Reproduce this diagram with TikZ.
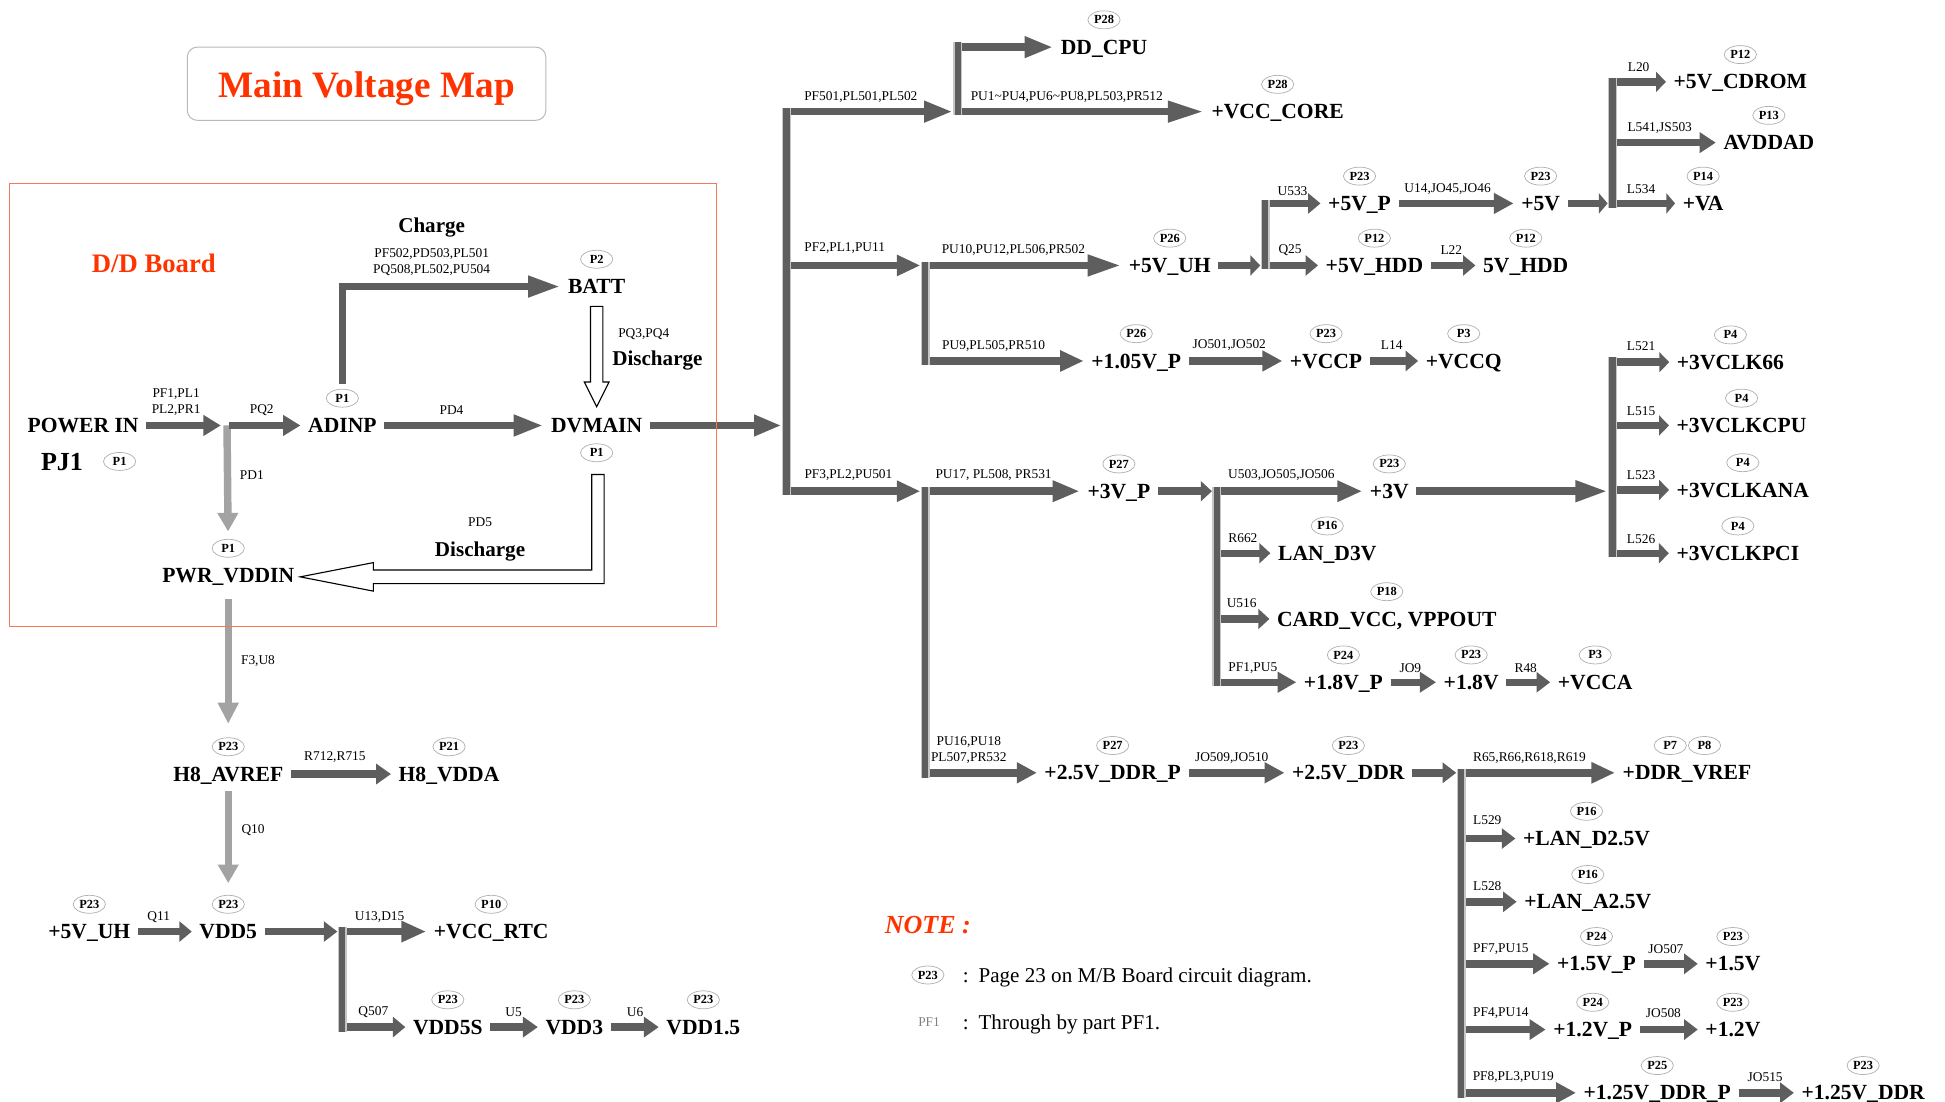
\documentclass[tikz,border=0pt]{standalone}
\usepackage{fontspec}
\setmainfont{Liberation Serif}
\usetikzlibrary{arrows.meta,positioning,shapes.geometric}

\definecolor{pgray}{HTML}{5E5E5E}
\definecolor{lgray}{HTML}{A3A3A3}
\definecolor{mapred}{HTML}{FF3300}
\definecolor{boxred}{HTML}{F5785A}

\tikzset{
  volt/.style={font=\bfseries\fontsize{17.4}{17.4}\selectfont, inner xsep=6pt, inner ysep=3pt,
    text height=11.5pt, text depth=0pt},
  pg/.style={ellipse, draw=gray!60, line width=0.6pt, minimum width=26pt, minimum height=14.5pt,
    inner sep=0pt, font=\bfseries\fontsize{10}{10}\selectfont},
  lbl/.style={font=\fontsize{10.8}{13}\selectfont, inner sep=0pt, align=center},
  hd/.style={font=\bfseries\fontsize{17}{17}\selectfont, inner sep=0pt, text height=11.5pt, text depth=0pt},
  nt/.style={anchor=west, inner sep=0pt, font=\fontsize{17}{17}\selectfont, text height=11.5pt, text depth=0pt},
  pw/.style={draw=pgray, line width=6pt, -{Triangle[length=#1,width=16pt]}},
  pw/.default=18pt,
  pwl/.style={pw=#1, draw=lgray},
  pwl/.default=15pt,
  tobus/.style={shorten >=4pt},
  bus/.style={draw=gray!45, line width=1.2pt, double=pgray, double distance=5pt},
  hollow/.style={draw=black, line width=0.9pt, fill=white, line join=miter}
}

\begin{document}
\begin{tikzpicture}[x=1pt, y=-1pt]
\useasboundingbox (0,0) rectangle (1568,887.6);

% title
\node[draw=gray!55, line width=0.8pt, rounded corners=8pt, minimum width=289pt, minimum height=59pt] (title) at (295.5,67.5) {};
\node[text=mapred, font=\bfseries\fontsize{30}{30}\selectfont, text height=20pt, text depth=0pt, inner sep=0pt] (titletx) at (295.5,69) {Main Voltage Map};

% D/D board
\node[text=mapred, font=\bfseries\fontsize{21.5}{21.5}\selectfont] (ddlbl) at (124,212) {D/D Board};
\node[volt] (pwrin) at (67,343) {POWER IN};
\node[volt, font=\bfseries\fontsize{21}{21}\selectfont, text height=14pt] (pj1) at (50,372) {PJ1};
\node[pg, right=10pt of pj1] (pj1P) {P1};
\node[volt] (adinp) at (276,343) {ADINP};
\node[pg, above=5.5pt of adinp] (adinpP) {P1};
\node[volt] (dvmain) at (481,343) {DVMAIN};
\node[pg, below=5.5pt of dvmain] (dvmainP) {P1};
\node[volt] (batt) at (481,231) {BATT};
\node[pg, above=5.5pt of batt] (battP) {P2};
\node[volt] (vddin) at (184,464) {PWR\_VDDIN};
\node[pg, above=5.5pt of vddin] (vddinP) {P1};

\node[hd] (lchg) at (348,182) {Charge};
\node[lbl] (lpf502) at (348,211.5) {PF502,PD503,PL501\\PQ508,PL502,PU504};
\node[lbl] (lpf1) at (142,324.5) {PF1,PL1\\PL2,PR1};
\node[lbl] (lpq2) at (211,331) {PQ2};
\node[lbl] (lpd4) at (364,331) {PD4};
\node[lbl] (lpd1) at (203,383) {PD1};
\node[lbl] (lpq3) at (519,269) {PQ3,PQ4};
\node[hd] (ldis1) at (530,289) {Discharge};
\node[lbl] (lpd5) at (387,421) {PD5};
\node[hd] (ldis2) at (387,443) {Discharge};

% H8 / VDD5
\node[volt] (avref) at (184,624) {H8\_AVREF};
\node[pg, above=5.5pt of avref] (avrefP) {P23};
\node[volt] (vdda) at (362,624) {H8\_VDDA};
\node[pg, above=5.5pt of vdda] (vddaP) {P21};
\node[volt] (uhl) at (72,751) {+5V\_UH};
\node[pg, above=5.5pt of uhl] (uhlP) {P23};
\node[volt] (vddf) at (184,751) {VDD5};
\node[pg, above=5.5pt of vddf] (vddfP) {P23};
\node[volt] (rtc) at (396,751) {+VCC\_RTC};
\node[pg, above=5.5pt of rtc] (rtcP) {P10};
\node[volt] (vddfs) at (361,828) {VDD5S};
\node[pg, above=5.5pt of vddfs] (vddfsP) {P23};
\node[volt] (vddt) at (463,828) {VDD3};
\node[pg, above=5.5pt of vddt] (vddtP) {P23};
\node[volt] (vddo) at (567,828) {VDD1.5};
\node[pg, above=5.5pt of vddo] (vddoP) {P23};

\node[lbl] (lf3) at (208,533) {F3,U8};
\node[lbl] (lr712) at (270,610) {R712,R715};
\node[lbl] (lq10) at (204,669) {Q10};
\node[lbl] (lq11) at (128,739) {Q11};
\node[lbl] (lu13) at (306,739) {U13,D15};
\node[lbl] (lq507) at (301,816) {Q507};
\node[lbl] (lu5) at (414,816) {U5};
\node[lbl] (lu6) at (512,816) {U6};

% CPU / 5V branch
\node[volt] (ddcpu) at (890,38) {DD\_CPU};
\node[pg, above=5.5pt of ddcpu] (ddcpuP) {P28};
\node[volt] (core) at (1030,90) {+VCC\_CORE};
\node[pg, above=5.5pt of core] (coreP) {P28};
\node[volt] (uh) at (943,214) {+5V\_UH};
\node[pg, above=5.5pt of uh] (uhP) {P26};
\node[volt] (vp) at (916,291) {+1.05V\_P};
\node[pg, above=5.5pt of vp] (vpP) {P26};
\node[volt] (fivep) at (1096,164) {+5V\_P};
\node[pg, above=5.5pt of fivep] (fivepP) {P23};
\node[volt] (five) at (1242,164) {+5V};
\node[pg, above=5.5pt of five] (fiveP) {P23};
\node[volt] (cdrom) at (1403,66) {+5V\_CDROM};
\node[pg, above=5.5pt of cdrom] (cdromP) {P12};
\node[volt] (avddad) at (1426,115) {AVDDAD};
\node[pg, above=5.5pt of avddad] (avddadP) {P13};
\node[volt] (va) at (1373,164) {+VA};
\node[pg, above=5.5pt of va] (vaP) {P14};
\node[volt] (hddp) at (1108,214) {+5V\_HDD};
\node[pg, above=5.5pt of hddp] (hddpP) {P12};
\node[volt] (hdd) at (1230,214) {5V\_HDD};
\node[pg, above=5.5pt of hdd] (hddP) {P12};
\node[volt] (vccp) at (1069,291) {+VCCP};
\node[pg, above=5.5pt of vccp] (vccpP) {P23};
\node[volt] (vccq) at (1180,291) {+VCCQ};
\node[pg, above=5.5pt of vccq] (vccqP) {P3};

\node[lbl] (lpf501) at (694,78) {PF501,PL501,PL502};
\node[lbl] (lpu1) at (860,78) {PU1\textasciitilde PU4,PU6\textasciitilde PU8,PL503,PR512};
\node[lbl] (lpf2) at (681,200) {PF2,PL1,PU11};
\node[lbl] (lpu10) at (817,201.5) {PU10,PU12,PL506,PR502};
\node[lbl] (lpu9) at (801,279) {PU9,PL505,PR510};
\node[lbl] (lu533) at (1042,154) {U533};
\node[lbl] (lu14) at (1167,152.5) {U14,JO45,JO46};
\node[lbl] (lq25) at (1040,201.5) {Q25};
\node[lbl] (ll22) at (1170,201.5) {L22};
\node[lbl] (ljo501) at (991,278) {JO501,JO502};
\node[lbl] (ll14) at (1122,278) {L14};
\node[lbl] (ll20) at (1321,54.5) {L20};
\node[lbl] (ll541) at (1338,103.5) {L541,JS503};
\node[lbl] (ll534) at (1323,152.5) {L534};

% 3V branch
\node[volt] (tvp) at (902,396) {+3V\_P};
\node[pg, above=5.5pt of tvp] (tvpP) {P27};
\node[volt] (tv) at (1120,396) {+3V};
\node[pg, above=5.5pt of tv] (tvP) {P23};
\node[volt] (clksix) at (1395,292) {+3VCLK66};
\node[pg, above=5.5pt of clksix] (clksixP) {P4};
\node[volt] (clkcpu) at (1404,343) {+3VCLKCPU};
\node[pg, above=5.5pt of clkcpu] (clkcpuP) {P4};
\node[volt] (clkana) at (1405,395) {+3VCLKANA};
\node[pg, above=5.5pt of clkana] (clkanaP) {P4};
\node[volt] (clkpci) at (1401,446) {+3VCLKPCI};
\node[pg, above=5.5pt of clkpci] (clkpciP) {P4};
\node[volt] (land) at (1070,446) {LAN\_D3V};
\node[pg, above=5.5pt of land] (landP) {P16};
\node[volt] (card) at (1118,499) {CARD\_VCC, VPPOUT};
\node[pg, above=5.5pt of card] (cardP) {P18};
\node[volt] (eightp) at (1083,550) {+1.8V\_P};
\node[pg, above=5.5pt of eightp] (eightpP) {P24};
\node[volt] (eight) at (1186,550) {+1.8V};
\node[pg, above=5.5pt of eight] (eightP) {P23};
\node[volt] (vcca) at (1286,550) {+VCCA};
\node[pg, above=5.5pt of vcca] (vccaP) {P3};

\node[lbl] (lpf3) at (684,383) {PF3,PL2,PU501};
\node[lbl] (lpu17) at (801,383) {PU17, PL508, PR531};
\node[lbl] (lu503) at (1033,383) {U503,JO505,JO506};
\node[lbl] (ll521) at (1323,279) {L521};
\node[lbl] (ll515) at (1323,331.5) {L515};
\node[lbl] (ll523) at (1323,383) {L523};
\node[lbl] (ll526) at (1323,434.5) {L526};
\node[lbl] (lr662) at (1002,434) {R662};
\node[lbl] (lu516) at (1001,486.5) {U516};
\node[lbl] (lpf1b) at (1010,539) {PF1,PU5};
\node[lbl] (ljo9) at (1137,539) {JO9};
\node[lbl] (lr48) at (1230,539) {R48};

% DDR branch
\node[volt] (ddrp) at (897,623) {+2.5V\_DDR\_P};
\node[pg, above=5.5pt of ddrp] (ddrpP) {P27};
\node[volt] (ddr) at (1087,623) {+2.5V\_DDR};
\node[pg, above=5.5pt of ddr] (ddrP) {P23};
\node[volt] (vref) at (1360,623) {+DDR\_VREF};
\node[pg, above=5.5pt of vref, xshift=-13.5pt] (vrefP) {P7};
\node[pg, right=1pt of vrefP] (vrefQ) {P8};
\node[volt] (landd) at (1279,676) {+LAN\_D2.5V};
\node[pg, above=5.5pt of landd] (landdP) {P16};
\node[volt] (lana) at (1280,727) {+LAN\_A2.5V};
\node[pg, above=5.5pt of lana] (lanaP) {P16};
\node[volt] (ofp) at (1287,777) {+1.5V\_P};
\node[pg, above=5.5pt of ofp] (ofpP) {P24};
\node[volt] (of) at (1397,777) {+1.5V};
\node[pg, above=5.5pt of of] (ofP) {P23};
\node[volt] (otp) at (1284,830) {+1.2V\_P};
\node[pg, above=5.5pt of otp] (otpP) {P24};
\node[volt] (ot) at (1397,830) {+1.2V};
\node[pg, above=5.5pt of ot] (otP) {P23};
\node[volt] (qddrp) at (1336,881) {+1.25V\_DDR\_P};
\node[pg, above=5.5pt of qddrp] (qddrpP) {P25};
\node[volt] (qddr) at (1502,881) {+1.25V\_DDR};
\node[pg, above=5.5pt of qddr] (qddrP) {P23};

\node[lbl] (lpu16) at (781,605) {PU16,PU18\\PL507,PR532};
\node[lbl] (ljo509) at (993,611) {JO509,JO510};
\node[lbl] (lr65) at (1233,611) {R65,R66,R618,R619};
\node[lbl] (ll529) at (1199,661) {L529};
\node[lbl] (ll528) at (1199,714) {L528};
\node[lbl] (lpf7) at (1210,765.5) {PF7,PU15};
\node[lbl] (ljo507) at (1343,765.5) {JO507};
\node[lbl] (lpf4) at (1210,817) {PF4,PU14};
\node[lbl] (ljo508) at (1341,817) {JO508};
\node[lbl] (lpf8) at (1220,868) {PF8,PL3,PU19};
\node[lbl] (ljo515) at (1423,868) {JO515};

% note
\node[text=mapred, font=\bfseries\itshape\fontsize{21}{21}\selectfont] (note) at (748,746) {NOTE :};
\node[pg] (noteP) at (748,786) {P23};
\node[nt] (noteA) at (776,786) {:\hspace{8pt}Page 23 on M/B Board circuit diagram.};
\node[lbl, text=gray] (notePF) at (749,824) {PF1};
\node[nt] (noteB) at (776,824) {:\hspace{8pt}Through by part PF1.};

% bus bars
\coordinate (j0) at (183,343);
\coordinate (s0t) at (634,87);    \coordinate (s0b) at (634,399);
\coordinate (s1t) at (772,34);    \coordinate (s1b) at (772,93);
\coordinate (s2t) at (746,211);   \coordinate (s2b) at (746,294);
\coordinate (s3t) at (1020,161);  \coordinate (s3b) at (1020,217);
\coordinate (s4t) at (1300,63);   \coordinate (s4b) at (1300,168);
\coordinate (s5t) at (746,393);   \coordinate (s5b) at (746,627);
\coordinate (s6t) at (981,393);   \coordinate (s6b) at (981,553);
\coordinate (s7t) at (1300,288);  \coordinate (s7b) at (1300,449);
\coordinate (s8t) at (1178,620);  \coordinate (s8b) at (1178,885);
\coordinate (s9t) at (276,747);   \coordinate (s9b) at (276,832);
\coordinate (s1in) at (772,90);
\coordinate (s2in) at (746,214);
\coordinate (s5in) at (746,396);

% D/D board arrows
\draw[pw=14pt, shorten >=5pt] (pwrin) -- (j0);
\draw[pwl=15pt, shorten >=6pt] (j0) -- (vddinP);
\draw[pw=14pt, shorten <=2pt] (j0) -- (adinp);
\draw[pw=24pt] (adinp) -- (dvmain);
\draw[pw=26pt] ([yshift=4pt]adinpP.north) |- (batt);
\draw[hollow] ([xshift=-5pt,yshift=-7pt]batt.south) -- ++(10,0) -- ++(0,61) -- ++(5,0)
  -- ++(-10,20) -- ++(-10,-20) -- ++(5,0) -- cycle;
\draw[hollow] ([xshift=-4pt,yshift=-10pt]dvmainP.south) -- ++(10,0) -- ++(0,88) -- ++(-186,0)
  -- ++(0,6) -- ++(-59,-11.5) -- ++(59,-11.5) -- ++(0,6) -- ++(176,0) -- cycle;

% H8 / VDD5 arrows
\draw[pwl=17pt, shorten <=10pt, shorten >=11pt] (vddin) -- (avrefP);
\draw[pw=12pt] (avref) -- (vdda);
\draw[pwl=15pt, shorten <=5pt, shorten >=9.5pt] (avref) -- (vddfP);
\draw[pw=10pt] (uhl) -- (vddf);
\draw[pw=11pt, tobus] (vddf) -- (s9t |- vddf);
\draw[pw=20pt] (s9t |- rtc) -- (rtc);
\draw[pw=10pt] (s9t |- vddfs) -- (vddfs);
\draw[pw=12pt] (vddfs) -- (vddt);
\draw[pw=12pt] (vddt) -- (vddo);

% main spine
\draw[pw=22pt, tobus] (dvmain) -- (s0t |- dvmain);
\draw[pw=23pt, tobus] (s0t |- s1in) -- (s1in);
\draw[pw=23pt] (s1t |- ddcpu) -- (ddcpu);
\draw[pw=29pt] (s1t |- core) -- (core);
\draw[pw=19pt, tobus] (s0t |- s2in) -- (s2in);
\draw[pw=27pt] (s2t |- uh) -- (uh);
\draw[pw=19pt] (s2t |- vp) -- (vp);
\draw[pw=8pt, tobus] (uh) -- (s3t |- uh);
\draw[pw=10pt] (s3t |- fivep) -- (fivep);
\draw[pw=10pt] (s3t |- hddp) -- (hddp);
\draw[pw=16pt] (fivep) -- (five);
\draw[pw=10pt] (hddp) -- (hdd);
\draw[pw=7pt, tobus] (five) -- (s4t |- five);
\draw[pw=8pt] (s4t |- cdrom) -- (cdrom);
\draw[pw=13pt] (s4t |- avddad) -- (avddad);
\draw[pw=7pt] (s4t |- va) -- (va);
\draw[pw=16pt] (vp) -- (vccp);
\draw[pw=10pt] (vccp) -- (vccq);

\draw[pw=19pt, tobus] (s0t |- s5in) -- (s5in);
\draw[pw=22pt] (s5t |- tvp) -- (tvp);
\draw[pw=9pt, tobus] (tvp) -- (s6t |- tvp);
\draw[pw=20pt] (s6t |- tv) -- (tv);
\draw[pw=26pt, tobus] (tv) -- (s7t |- tv);
\foreach \n in {clksix,clkcpu,clkana,clkpci}
  \draw[pw=8pt] (s7t |- \n) -- (\n);
\draw[pw=9pt] (s6t |- land) -- (land);
\draw[pw=9pt] (s6t |- card) -- (card);
\draw[pw=15pt] (s6t |- eightp) -- (eightp);
\draw[pw=13pt] (eightp) -- (eight);
\draw[pw=11pt] (eight) -- (vcca);

\draw[pw=16pt] (s5t |- ddrp) -- (ddrp);
\draw[pw=16pt] (ddrp) -- (ddr);
\draw[pw=11pt, tobus] (ddr) -- (s8t |- ddr);
\draw[pw=19pt] (s8t |- vref) -- (vref);
\draw[pw=11pt] (s8t |- landd) -- (landd);
\draw[pw=11pt] (s8t |- lana) -- (lana);
\draw[pw=13pt] (s8t |- ofp) -- (ofp);
\draw[pw=13pt] (s8t |- otp) -- (otp);
\draw[pw=16pt] (s8t |- qddrp) -- (qddrp);
\draw[pw=11pt] (ofp) -- (of);
\draw[pw=11pt] (otp) -- (ot);
\draw[pw=11pt] (qddrp) -- (qddr);

\draw[bus] (s0t) -- (s0b) (s1t) -- (s1b) (s2t) -- (s2b) (s3t) -- (s3b) (s4t) -- (s4b)
  (s5t) -- (s5b) (s6t) -- (s6b) (s7t) -- (s7b) (s8t) -- (s8b) (s9t) -- (s9b);

% board outline on top
\node[draw=boxred, line width=0.8pt, minimum width=570pt, minimum height=357pt, inner sep=0pt] (ddbox) at (293,326.5) {};
\end{tikzpicture}
\end{document}
